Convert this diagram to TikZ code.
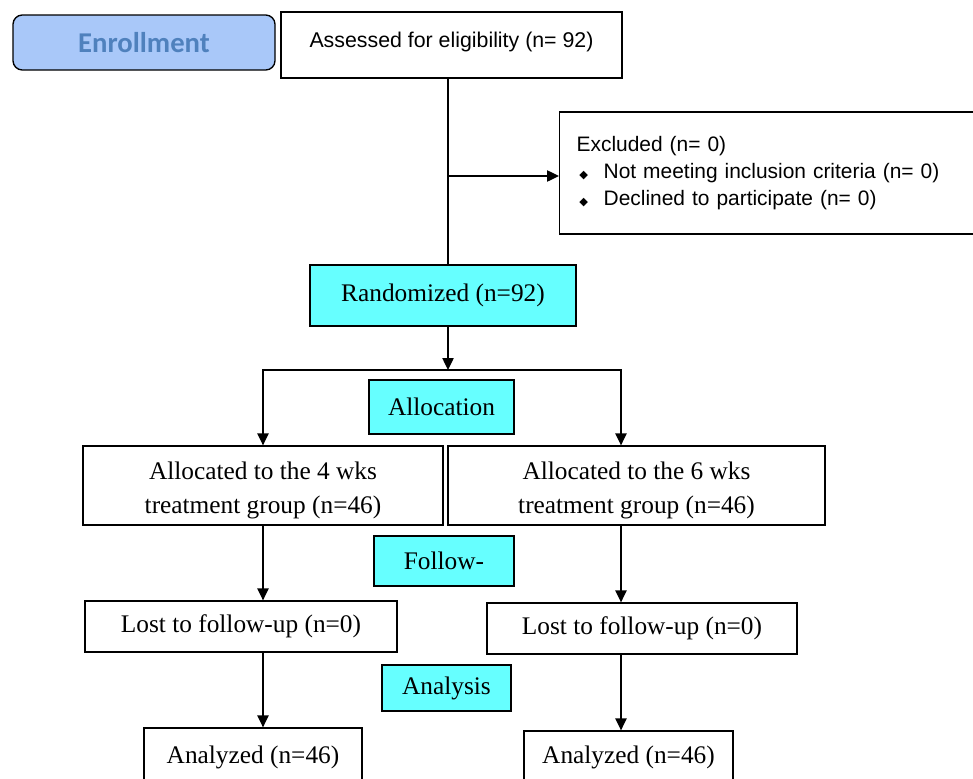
\documentclass[tikz,border=0pt]{standalone}
\usepackage{fontspec}
\setmainfont{Liberation Serif}
\newfontfamily\arialfont{Liberation Sans}
\newfontfamily\calibrifont{Carlito}
\newfontfamily\symfont{DejaVu Sans}
\usetikzlibrary{arrows.meta}
\definecolor{cyanfill}{HTML}{66FFFF}
\definecolor{enrfill}{HTML}{A9C8F9}
\definecolor{enrtext}{HTML}{4F81BD}
\newcommand\bul{\makebox[20.25pt][l]{\hspace{2pt}{\symfont\fontsize{8.5}{8.5}\selectfont ◆}}}
\newcommand\shiftink[2]{\raisebox{#1}[\height][\depth]{#2}}
\tikzset{
  box/.style={draw=black, line width=1pt, fill=white, inner sep=0pt, align=center,
    font=\fontsize{19}{26}\selectfont},
  cbox/.style={box, fill=cyanfill},
  sz/.style 2 args={minimum width=#1*0.75pt, minimum height=#2*0.75pt},
  arr/.style={line width=1pt, -{Triangle[length=9pt,width=8.5pt]}},
  ln/.style={line width=1pt},
}
\begin{document}
\begin{tikzpicture}[x=0.75pt,y=-0.75pt]
\useasboundingbox (0,0) rectangle (973,778);
\clip (0,0) rectangle (973,778);

% column coordinates
\coordinate (colM) at (448,0);
\coordinate (colL) at (263,0);
\coordinate (colR) at (621,0);
\coordinate (split) at (448,370);
\coordinate (branch) at (448,176);

% nodes
\node[draw=black, line width=1pt, fill=enrfill, rounded corners=7pt, sz={262}{55},
  font=\calibrifont\bfseries\fontsize{21.5}{24}\selectfont, text=enrtext] (enroll) at (144,42.5) {Enrollment};
\node[box, sz={341}{66}, font=\arialfont\fontsize{16}{20}\selectfont] (assess) at (451.5,45)
  {\shiftink{2.5pt}{Assessed for eligibility (n= 92)}};
\node[box, anchor=west, text width=297.75pt, inner xsep=12.75pt, minimum height=91.5pt,
  align=left, font=\arialfont\fontsize{15.7}{20.25}\selectfont] (excl) at (559,173)
  {Excluded (n= 0)\\
   \bul Not meeting inclusion criteria (n= 0)\\
   \bul Declined to participate (n= 0)};
\node[cbox, sz={266}{61}] (rand) at (443,295.5) {Randomized (n=92)};
\node[cbox, sz={145}{54}] (alloc) at (441.5,407) {Allocation};
\node[box, sz={360}{79}] (al4) at (263,485.5)
  {\shiftink{-3.4pt}{\shortstack{Allocated to the 4 wks\\[9.25pt]treatment group (n=46)}}};
\node[box, sz={377}{79}] (al6) at (636.5,485.5)
  {\shiftink{-3.4pt}{\shortstack{Allocated to the 6 wks\\[9.25pt]treatment group (n=46)}}};
\node[cbox, sz={140}{50}] (follow) at (444,561) {Follow-};
\node[box, sz={312}{51}] (lost4) at (241,626.5) {Lost to follow-up (n=0)};
\node[box, sz={310}{51}] (lost6) at (642,628.5) {Lost to follow-up (n=0)};
\node[cbox, sz={129}{46}] (analysis) at (446.5,688) {Analysis};
\node[box, sz={218}{56}] (an4) at (253,756) {\shiftink{-1.2pt}{Analyzed (n=46)}};
\node[box, sz={209}{52}] (an6) at (628.5,757) {Analyzed (n=46)};

% connectors
\draw[ln] (colM |- assess.south) -- (colM |- rand.north);
\draw[arr] (branch) -- (branch -| excl.west);
\draw[arr] (colM |- rand.south) -- (split);
\draw[arr] (split) -| (colL |- al4.north);
\draw[arr] (split) -| (colR |- al6.north);
\draw[arr] (colL |- al4.south) -- (colL |- lost4.north);
\draw[arr] (colR |- al6.south) -- (colR |- lost6.north);
\draw[arr] (colL |- lost4.south) -- (colL |- an4.north);
\draw[arr] (colR |- lost6.south) -- (colR |- an6.north);
\end{tikzpicture}
\end{document}
